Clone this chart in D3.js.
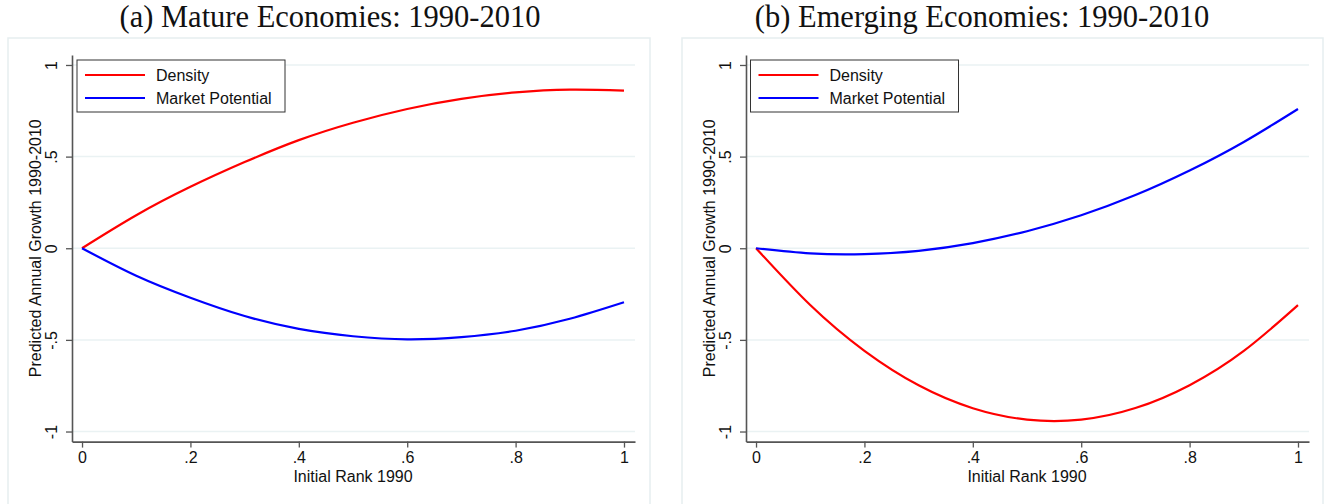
<!DOCTYPE html>
<html>
<head>
<meta charset="utf-8">
<script src="https://cdn.jsdelivr.net/npm/d3@7"></script>
<style>
  html, body { margin: 0; padding: 0; background: #fff; }
  svg { display: block; }
  .tick text { font-family: "Liberation Sans", Arial, sans-serif; }
</style>
</head>
<body>
<svg id="chart" width="1329" height="504"></svg>
<script>
// Predicted annual growth by initial rank, evaluated on a grid of ranks
const rankGrid = [0, 0.1, 0.2, 0.3, 0.4, 0.5, 0.6, 0.7, 0.8, 0.9, 1.0];

const matureDensity  = [0, 0.18, 0.335, 0.47, 0.59, 0.685, 0.76, 0.815, 0.85, 0.865, 0.86];
const matureMarket   = [0, -0.15, -0.27, -0.37, -0.44, -0.48, -0.497, -0.485, -0.45, -0.385, -0.295];

const emergingDensity = [0, -0.31, -0.56, -0.748, -0.873, -0.935, -0.935, -0.872, -0.747, -0.56, -0.31];
const emergingMarket  = [0, -0.028, -0.032, -0.014, 0.028, 0.093, 0.18, 0.29, 0.424, 0.58, 0.76];

const seriesNames  = ["Density", "Market Potential"];
const seriesColors = ["#ff0000", "#0000ff"];

const panelTitles = ["(a) Mature Economies: 1990-2010", "(b) Emerging Economies: 1990-2010"];
const xTitle = "Initial Rank 1990";
const yTitle = "Predicted Annual Growth 1990-2010";

const xTicks = [0, 0.2, 0.4, 0.6, 0.8, 1];
const xTickLabels = ["0", ".2", ".4", ".6", ".8", "1"];
const yTicks = [-1, -0.5, 0, 0.5, 1];
const yTickLabels = ["-1", "-.5", "0", ".5", "1"];

const panels = [
  { title: panelTitles[0], series: [matureDensity, matureMarket], offset: 0, titleX: 330, frame: [8, 650] },
  { title: panelTitles[1], series: [emergingDensity, emergingMarket], offset: 674, titleX: 982, frame: [682, 1323] }
];

const svg = d3.select("#chart");
const sans = "'Liberation Sans', Arial, Helvetica, sans-serif";
const serif = "'Liberation Serif', 'Times New Roman', serif";

panels.forEach(p => {
  const g = svg.append("g");
  const o = p.offset;

  // panel frame
  g.append("rect")
    .attr("x", p.frame[0]).attr("y", 38)
    .attr("width", p.frame[1] - p.frame[0]).attr("height", 480)
    .attr("fill", "#fff").attr("stroke", "#e6eef0").attr("stroke-width", 1.5);

  // title
  g.append("text")
    .attr("x", p.titleX).attr("y", 27)
    .attr("text-anchor", "middle")
    .attr("font-family", serif).attr("font-size", 30.5)
    .attr("fill", "#111")
    .text(p.title);

  const x = d3.scaleLinear().domain([-0.0185, 1.0203]).range([72 + o, 635 + o]);
  const y = d3.scaleLinear().domain([-1.055, 1.055]).range([441.6, 54.9]);

  // gridlines
  g.append("g").selectAll("line").data(yTicks).join("line")
    .attr("x1", x.range()[0]).attr("x2", x.range()[1])
    .attr("y1", d => y(d)).attr("y2", d => y(d))
    .attr("stroke", "#eaf2f3").attr("stroke-width", 1.5);

  // y axis
  const yAxis = g.append("g")
    .attr("transform", `translate(${x.range()[0]},0)`)
    .call(d3.axisLeft(y).tickValues(yTicks).tickFormat((d, i) => yTickLabels[i]).tickSize(6).tickSizeOuter(0));
  yAxis.select(".domain").attr("stroke", "#555").attr("stroke-width", 1.6);
  yAxis.selectAll(".tick line").attr("stroke", "#555").attr("stroke-width", 1.3);
  yAxis.selectAll(".tick text")
    .attr("x", null).attr("dy", null)
    .attr("transform", "translate(-15,0) rotate(-90)")
    .attr("text-anchor", "middle")
    .attr("font-size", 16).attr("fill", "#111");

  // x axis
  const xAxis = g.append("g")
    .attr("transform", `translate(0,${y.range()[0]})`)
    .call(d3.axisBottom(x).tickValues(xTicks).tickFormat((d, i) => xTickLabels[i]).tickSize(6).tickSizeOuter(0));
  xAxis.select(".domain").attr("stroke", "#555").attr("stroke-width", 1.6);
  xAxis.selectAll(".tick line").attr("stroke", "#555").attr("stroke-width", 1.3);
  xAxis.selectAll(".tick text")
    .attr("y", 10).attr("dy", "0.71em")
    .attr("font-size", 16).attr("fill", "#111");

  // axis titles
  g.append("text")
    .attr("x", (x(0) + x(1)) / 2).attr("y", 482)
    .attr("text-anchor", "middle")
    .attr("font-family", sans).attr("font-size", 16).attr("fill", "#111")
    .text(xTitle);
  g.append("text")
    .attr("transform", `translate(${41 + o},${y(0)}) rotate(-90)`)
    .attr("text-anchor", "middle")
    .attr("font-family", sans).attr("font-size", 16).attr("fill", "#111")
    .text(yTitle);

  // curves
  const line = d3.line()
    .x((d, i) => x(rankGrid[i]))
    .y(d => y(d))
    .curve(d3.curveNatural);
  p.series.forEach((vals, k) => {
    g.append("path")
      .attr("d", line(vals))
      .attr("fill", "none")
      .attr("stroke", seriesColors[k])
      .attr("stroke-width", 2.2);
  });

  // legend
  const lx = 77 + o - (o ? 0.5 : 0), ly = 60;
  const leg = g.append("g").attr("transform", `translate(${lx},${ly})`);
  leg.append("rect")
    .attr("x", 0).attr("y", 0).attr("width", 208).attr("height", 52)
    .attr("fill", "#fff").attr("stroke", "#333").attr("stroke-width", 1);
  seriesNames.forEach((name, k) => {
    const cy = 15 + k * 23;
    leg.append("line")
      .attr("x1", 8).attr("x2", 68).attr("y1", cy).attr("y2", cy)
      .attr("stroke", seriesColors[k]).attr("stroke-width", 2.2);
    leg.append("text")
      .attr("x", 79).attr("y", cy + 6)
      .attr("font-family", sans).attr("font-size", 16).attr("fill", "#111")
      .text(name);
  });
});
</script>
</body>
</html>
